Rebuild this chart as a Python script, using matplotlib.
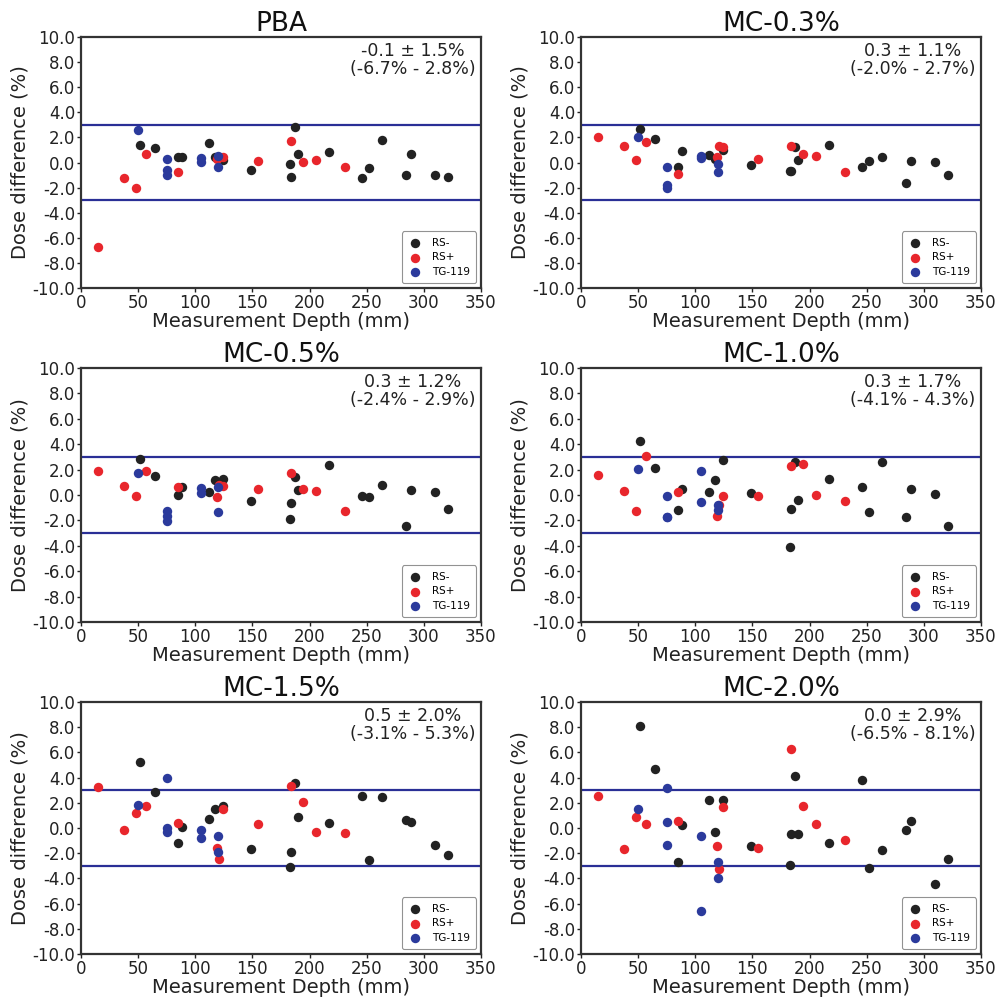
import matplotlib
matplotlib.use("Agg")
import matplotlib.pyplot as plt
import numpy as np

# ---- data ----
rs_minus_depth = [52, 65, 85, 88, 112, 117, 124, 149, 183, 184, 187, 190, 217, 246, 252, 263, 284, 289, 310, 321]
rs_plus_depth = [15, 38, 48, 57, 85, 119, 121, 124, 155, 184, 194, 206, 231]
tg119_depth = [50, 75, 75, 75, 105, 105, 120, 120]

titles = ["PBA", "MC-0.3%", "MC-0.5%", "MC-1.0%", "MC-1.5%", "MC-2.0%"]
stats_text = [
    "-0.1 \u00b1 1.5%\n(-6.7% - 2.8%)",
    "0.3 \u00b1 1.1%\n(-2.0% - 2.7%)",
    "0.3 \u00b1 1.2%\n(-2.4% - 2.9%)",
    "0.3 \u00b1 1.7%\n(-4.1% - 4.3%)",
    "0.5 \u00b1 2.0%\n(-3.1% - 5.3%)",
    "0.0 \u00b1 2.9%\n(-6.5% - 8.1%)",
]

rs_minus_pba = [1.39, 1.13, 0.47, 0.47, 1.58, 0.47, 0.2, -0.58, -0.13, -1.18, 2.79, 0.68, 0.82, -1.24, -0.45, 1.82, -1.03, 0.68, -1.03, -1.16]
rs_plus_pba = [-6.71, -1.21, -2.05, 0.68, -0.79, 0.3, 0.4, 0.42, 0.13, 1.71, 0.03, 0.21, -0.34]
tg119_pba = [2.58, 0.29, -0.58, -0.97, 0.39, 0.03, 0.55, -0.34]

rs_minus_mc03 = [2.66, 1.84, -0.36, 0.93, 0.57, 0.28, 0.96, -0.2, -0.7, -0.7, 1.22, 0.22, 1.36, -0.38, 0.14, 0.43, -1.62, 0.14, 0.07, -0.96]
rs_plus_mc03 = [2.01, 1.33, 0.22, 1.64, -0.88, 0.43, 1.28, 1.2, 0.3, 1.28, 0.67, 0.54, -0.78]
tg119_mc03 = [2.06, -0.36, -1.76, -2.0, 0.49, 0.33, -0.09, -0.78]

rs_minus_mc05 = [2.84, 1.53, 0.03, 0.6, 0.24, 1.21, 1.24, -0.5, -1.87, -0.6, 1.45, 0.37, 2.39, -0.08, -0.16, 0.82, -2.42, 0.37, 0.24, -1.1]
rs_plus_mc05 = [1.92, 0.68, -0.05, 1.92, 0.63, -0.18, 0.82, 0.68, 0.47, 1.74, 0.47, 0.29, -1.29]
tg119_mc05 = [1.74, -1.24, -1.68, -2.08, 0.55, 0.18, 0.6, -1.34]

rs_minus_mc10 = [4.24, 2.13, -1.16, 0.5, 0.21, 1.18, 2.74, 0.16, -4.13, -1.08, 2.61, -0.37, 1.26, 0.66, -1.37, 2.63, -1.76, 0.47, 0.08, -2.42]
rs_plus_mc10 = [1.6, 0.34, -1.29, 3.05, 0.24, -1.68, -0.76, -0.05, -0.1, 2.29, 2.47, 0.0, -0.45]
tg119_mc10 = [2.05, -0.1, -1.74, -1.7, 1.87, -0.58, -0.76, -1.21]

rs_minus_mc15 = [5.23, 2.85, -1.2, 0.08, 0.75, 1.47, 1.73, -1.63, -3.12, -1.92, 3.55, 0.88, 0.43, 2.53, -2.53, 2.43, 0.67, 0.45, -1.36, -2.16]
rs_plus_mc15 = [3.23, -0.13, 1.2, 1.73, 0.4, -1.6, -2.45, 1.47, 0.29, 3.36, 2.08, -0.32, -0.4]
tg119_mc15 = [1.81, 4.0, 0.0, -0.32, -0.19, -0.8, -0.67, -1.87]

rs_minus_mc20 = [8.09, 4.71, -2.68, 0.23, 2.2, -0.33, 2.25, -1.43, -2.97, -0.47, 4.12, -0.47, -1.19, 3.77, -3.21, -1.75, -0.15, 0.57, -4.47, -2.44]
rs_plus_mc20 = [2.55, -1.64, 0.84, 0.28, 0.55, -1.43, -3.27, 1.64, -1.56, 6.28, 1.72, 0.28, -0.95]
tg119_mc20 = [1.48, 3.21, 0.47, -1.32, -0.63, -6.6, -2.73, -3.93]

rs_minus_all = [rs_minus_pba, rs_minus_mc03, rs_minus_mc05, rs_minus_mc10, rs_minus_mc15, rs_minus_mc20]
rs_plus_all = [rs_plus_pba, rs_plus_mc03, rs_plus_mc05, rs_plus_mc10, rs_plus_mc15, rs_plus_mc20]
tg119_all = [tg119_pba, tg119_mc03, tg119_mc05, tg119_mc10, tg119_mc15, tg119_mc20]

tolerance = 3.0
x_ticks = [0, 50, 100, 150, 200, 250, 300, 350]
y_ticks = [-10, -8, -6, -4, -2, 0, 2, 4, 6, 8, 10]

# ---- layout ----
W, H = 998, 999
fig = plt.figure(figsize=(W / 100, H / 100), dpi=100)
plt.rcParams['font.family'] = ['DejaVu Sans']

col_left = [81, 581]
ax_w = 400
rows = [(37, 288), (368, 622), (702, 954)]

c_black = '#222222'
c_red = '#e8262c'
c_blue = '#2b3a9c'
c_line = '#2a2f96'
c_spine = '#333333'

for i in range(6):
    r, c = divmod(i, 2)
    top, bot = rows[r]
    ax = fig.add_axes([col_left[c] / W, (H - bot) / H, ax_w / W, (bot - top) / H])
    ax.scatter(rs_minus_depth, rs_minus_all[i], s=46, color=c_black, label='RS-', zorder=3, linewidths=0)
    ax.scatter(rs_plus_depth, rs_plus_all[i], s=46, color=c_red, label='RS+', zorder=4, linewidths=0)
    ax.scatter(tg119_depth, tg119_all[i], s=46, color=c_blue, label='TG-119', zorder=5, linewidths=0)
    ax.axhline(tolerance, color=c_line, lw=1.6, zorder=2)
    ax.axhline(-tolerance, color=c_line, lw=1.6, zorder=2)
    ax.set_xlim(0, 350)
    ax.set_ylim(-10, 10)
    ax.set_xticks(x_ticks)
    ax.set_yticks(y_ticks)
    ax.set_yticklabels([f"{v:.1f}" for v in y_ticks])
    ax.tick_params(labelsize=12, colors='#222222', length=3, width=1, pad=1)
    for s in ax.spines.values():
        s.set_linewidth(1.6)
        s.set_color(c_spine)
    ax.set_title(titles[i], fontsize=19, pad=2, color='#111111')
    ax.set_xlabel("Measurement Depth (mm)", fontsize=14, labelpad=0, color='#222222')
    ax.set_ylabel("Dose difference (%)", fontsize=14, labelpad=2, color='#222222')
    ax.text(0.83, 0.98, stats_text[i], transform=ax.transAxes, ha='center', va='top',
            fontsize=12.5, color='#222222', multialignment='center', linespacing=1.0)
    leg = ax.legend(loc='lower right', fontsize=7.5, frameon=True, fancybox=True,
                    borderpad=0.6, labelspacing=0.45, handletextpad=0.9, handlelength=1.4,
                    borderaxespad=0.45, markerscale=1.0)
    leg.get_frame().set_edgecolor('#777777')
    leg.get_frame().set_linewidth(0.8)

fig.savefig("out.png", dpi=100)
